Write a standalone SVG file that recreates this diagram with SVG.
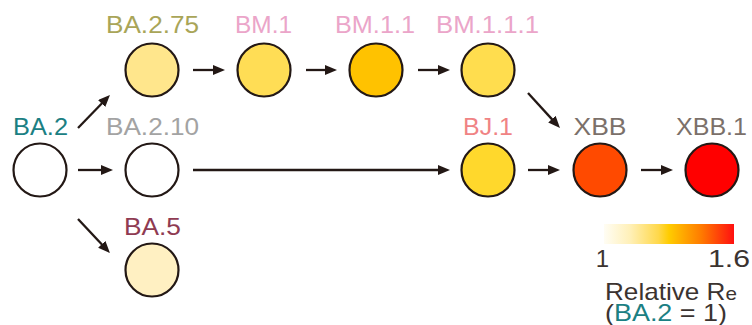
<svg xmlns="http://www.w3.org/2000/svg" width="752" height="325" viewBox="0 0 752 325">
<style>
text{font-family:"Liberation Sans",Arial,sans-serif;font-size:23px;text-anchor:middle}
.n{stroke:#231815;stroke-width:2.2}
.c{stroke:#231815;stroke-width:2.3;fill:none;marker-end:url(#ah)}
.k{fill:#3b3330;font-size:24px}
</style>
<defs>
<marker id="ah" markerUnits="userSpaceOnUse" markerWidth="12" markerHeight="11" refX="4" refY="5" orient="auto">
<path d="M0,0 L12,5 L0,10 z" fill="#231815"/>
</marker>
<linearGradient id="gr" x1="0" x2="1" y1="0" y2="0">
<stop offset="0" stop-color="#fffdf4"/>
<stop offset="0.2" stop-color="#fff0b8"/>
<stop offset="0.42" stop-color="#ffd84a"/>
<stop offset="0.5" stop-color="#ffcc00"/>
<stop offset="0.75" stop-color="#ff7a00"/>
<stop offset="1" stop-color="#ff1010"/>
</linearGradient>
</defs>
<g id="connectors">
<line class="c" x1="78" y1="128" x2="104.4" y2="100.7"/>
<line class="c" x1="78" y1="170" x2="105" y2="170"/>
<line class="c" x1="78" y1="219" x2="104.5" y2="247.2"/>
<line class="c" x1="193" y1="70" x2="217" y2="70"/>
<line class="c" x1="306" y1="70" x2="329" y2="70"/>
<line class="c" x1="418" y1="70" x2="442" y2="70"/>
<line class="c" x1="528" y1="93" x2="554.6" y2="122.1"/>
<line class="c" x1="193" y1="170" x2="442" y2="170"/>
<line class="c" x1="528" y1="170" x2="552" y2="170"/>
<line class="c" x1="641" y1="170" x2="665" y2="170"/>
</g>
<g id="BA2"><circle class="n" cx="40" cy="170" r="26.5" fill="#ffffff"/><text x="40.5" y="135" fill="#1b8083" textLength="55" lengthAdjust="spacingAndGlyphs">BA.2</text></g>
<g id="BA275"><circle class="n" cx="152" cy="70" r="26.5" fill="#ffe68c"/><text x="152.5" y="33" fill="#a9a558" textLength="93" lengthAdjust="spacingAndGlyphs">BA.2.75</text></g>
<g id="BM1"><circle class="n" cx="264" cy="70" r="26.5" fill="#ffdd55"/><text x="263.5" y="33" fill="#eba5c9" textLength="57" lengthAdjust="spacingAndGlyphs">BM.1</text></g>
<g id="BM11"><circle class="n" cx="376" cy="70" r="26.5" fill="#ffc200"/><text x="375" y="33" fill="#eba5c9" textLength="80" lengthAdjust="spacingAndGlyphs">BM.1.1</text></g>
<g id="BM111"><circle class="n" cx="488" cy="70" r="26.5" fill="#ffdd4e"/><text x="487.5" y="33" fill="#eba5c9" textLength="103" lengthAdjust="spacingAndGlyphs">BM.1.1.1</text></g>
<g id="BA210"><circle class="n" cx="152" cy="170" r="26.5" fill="#ffffff"/><text x="152.5" y="135" fill="#a3a3a3" textLength="93" lengthAdjust="spacingAndGlyphs">BA.2.10</text></g>
<g id="BJ1"><circle class="n" cx="488" cy="170" r="26.5" fill="#ffd82c"/><text x="488" y="135" fill="#f08384" textLength="50" lengthAdjust="spacingAndGlyphs">BJ.1</text></g>
<g id="XBB"><circle class="n" cx="600" cy="170" r="26.5" fill="#ff4a00"/><text x="600" y="135" fill="#7b706a" textLength="53" lengthAdjust="spacingAndGlyphs">XBB</text></g>
<g id="XBB1"><circle class="n" cx="712" cy="170" r="26.5" fill="#ff0000"/><text x="711.5" y="135" fill="#7b706a" textLength="71" lengthAdjust="spacingAndGlyphs">XBB.1</text></g>
<g id="BA5"><circle class="n" cx="152" cy="270" r="26.5" fill="#fff0c2"/><text x="152.5" y="235" fill="#8f3b52" textLength="57" lengthAdjust="spacingAndGlyphs">BA.5</text></g>
<g id="legend">
<rect x="604" y="224" width="130" height="20" fill="url(#gr)"/>
<text class="k" x="602.5" y="267">1</text>
<text class="k" x="750" y="267" style="text-anchor:end" textLength="42" lengthAdjust="spacingAndGlyphs">1.6</text>
<text class="k" x="671" y="300" textLength="132" lengthAdjust="spacingAndGlyphs">Relative R<tspan font-size="19" dy="0">e</tspan></text>
<text class="k" x="666" y="321" textLength="122" lengthAdjust="spacingAndGlyphs">(<tspan fill="#1b8083">BA.2</tspan> = 1)</text>
</g>
</svg>
